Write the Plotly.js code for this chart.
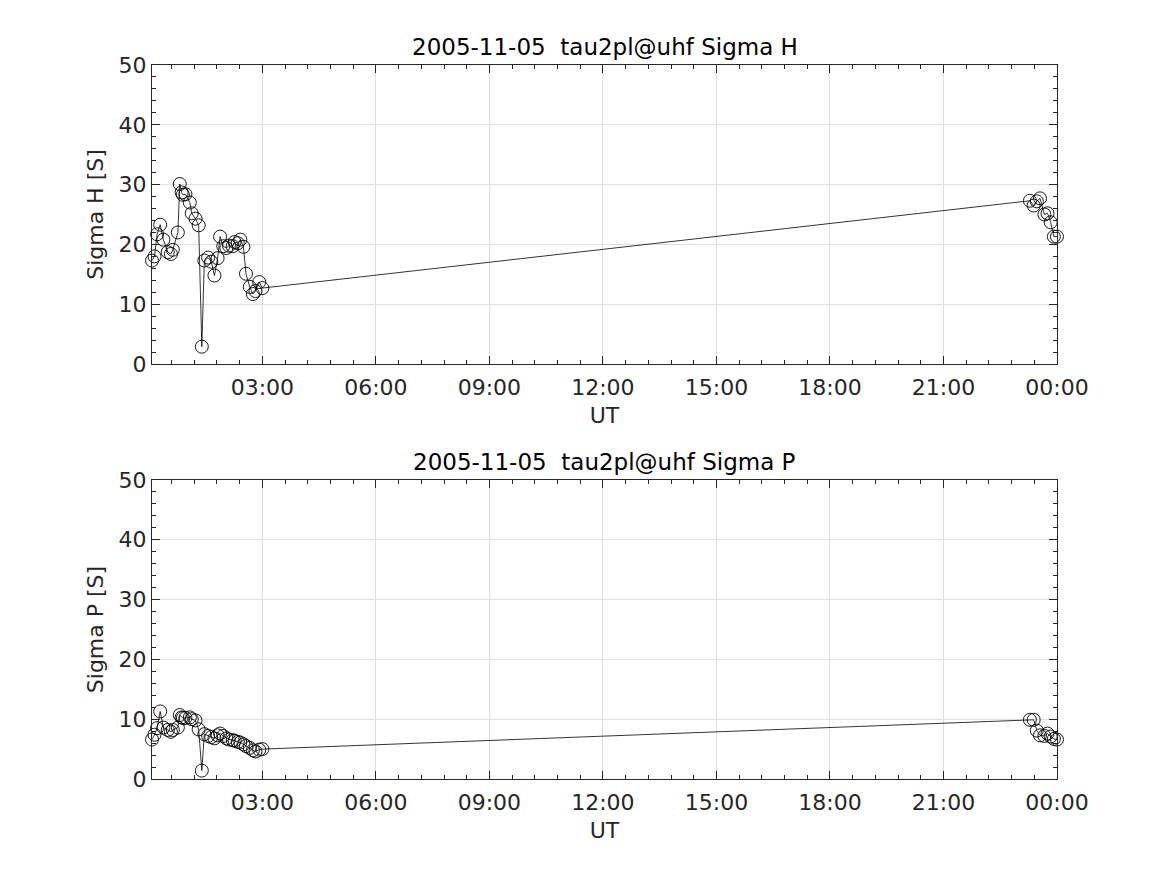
<!DOCTYPE html>
<html>
<head>
<meta charset="utf-8">
<script src="https://cdn.plot.ly/plotly-3.0.1.min.js"></script>
<style>html,body{margin:0;padding:0;background:#fff;}#chart{width:1167px;height:875px;}</style>
</head>
<body>
<div id="chart"></div>
<script>
const times = [
 "2005-11-05 00:05","2005-11-05 00:09","2005-11-05 00:13","2005-11-05 00:18","2005-11-05 00:23",
 "2005-11-05 00:30","2005-11-05 00:35","2005-11-05 00:38","2005-11-05 00:46","2005-11-05 00:49",
 "2005-11-05 00:52","2005-11-05 00:54","2005-11-05 00:58","2005-11-05 01:05","2005-11-05 01:08",
 "2005-11-05 01:14","2005-11-05 01:19","2005-11-05 01:24","2005-11-05 01:28","2005-11-05 01:34",
 "2005-11-05 01:39","2005-11-05 01:44","2005-11-05 01:49","2005-11-05 01:53","2005-11-05 01:58",
 "2005-11-05 02:03","2005-11-05 02:07","2005-11-05 02:13","2005-11-05 02:16","2005-11-05 02:21",
 "2005-11-05 02:25","2005-11-05 02:30","2005-11-05 02:34","2005-11-05 02:40","2005-11-05 02:45",
 "2005-11-05 02:49","2005-11-05 02:55","2005-11-05 03:00",
 "2005-11-05 23:17","2005-11-05 23:23","2005-11-05 23:28","2005-11-05 23:33","2005-11-05 23:40",
 "2005-11-05 23:45","2005-11-05 23:50","2005-11-05 23:55","2005-11-06 00:00"
];
const sigmaH = [17.3,18.0,21.7,23.3,20.8,18.7,18.4,19.1,22.0,30.1,28.7,28.3,28.4,27.0,25.2,24.3,23.2,2.9,17.3,17.8,
 17.1,14.8,17.7,21.3,19.7,19.4,19.8,19.7,20.4,20.2,20.8,19.6,15.1,12.9,11.7,12.2,13.7,12.7,
 27.3,26.5,27.2,27.7,25.0,25.2,23.7,21.3,21.3];
const sigmaP = [6.6,7.4,8.5,11.3,8.6,8.2,7.9,8.2,8.6,10.7,10.3,10.2,10.2,10.3,10.0,9.8,8.3,1.4,7.5,7.2,
 7.0,6.8,7.3,7.6,7.2,6.8,6.6,6.5,6.4,6.2,6.1,5.8,5.5,5.2,4.8,4.6,4.9,5.0,
 9.9,9.9,8.1,7.3,7.2,7.6,7.1,6.7,6.6];
const titleH = "2005-11-05  tau2pl@uhf Sigma H";
const titleP = "2005-11-05  tau2pl@uhf Sigma P";
const xRange = ["2005-11-05 00:05","2005-11-06 00:00"];
const yRange = [0,50];

const fnt = "DejaVu Sans, sans-serif";
const axc = "#262626";
function trace(y, xa, ya){
  return {x: times, y: y, xaxis: xa, yaxis: ya, type: 'scatter', mode: 'lines+markers',
    cliponaxis: false,
    line: {color: '#000', width: 0.8},
    marker: {symbol: 'circle-open', size: 13, color: '#000', line: {width: 0.9, color: '#000'}},
    hoverinfo: 'skip', showlegend: false};
}
function xax(anchor){
  return {type: 'date', range: xRange, anchor: anchor, domain: [0,1],
    tick0: "2005-11-05 00:00", dtick: 10800000, tickformat: '%H:%M',
    ticks: 'inside', ticklen: 8, tickwidth: 1, tickcolor: axc, ticklabelstandoff: 4,
    showline: true, linecolor: axc, linewidth: 1, mirror: 'ticks',
    showgrid: true, gridcolor: '#dfdfdf', gridwidth: 1, zeroline: false,
    tickfont: {family: fnt, size: 22, color: axc},
    minor: {tick0: "2005-11-05 00:00", dtick: 2160000, ticks: 'inside', ticklen: 4, tickcolor: axc, showgrid: false},
    title: {text: 'UT', font: {family: fnt, size: 22, color: axc}, standoff: 8}};
}
function yax(anchor, dom, label){
  return {range: yRange, anchor: anchor, domain: dom, dtick: 10, tick0: 0,
    ticks: 'inside', ticklen: 8, tickwidth: 1, tickcolor: axc,
    showline: true, linecolor: axc, linewidth: 1, mirror: 'ticks',
    showgrid: true, gridcolor: '#dfdfdf', gridwidth: 1, zeroline: false,
    tickfont: {family: fnt, size: 22, color: axc},
    minor: {dtick: 2, ticks: 'inside', ticklen: 4, tickcolor: axc, showgrid: false},
    title: {text: label, font: {family: fnt, size: 22, color: axc}, standoff: 8}};
}
const layout = {
  width: 1167, height: 875,
  margin: {l: 152, r: 110, t: 65, b: 96},
  paper_bgcolor: '#fff', plot_bgcolor: '#fff',
  xaxis: xax('y'), yaxis: yax('x', [0.5812, 1], 'Sigma H [S]'),
  xaxis2: xax('y2'), yaxis2: yax('x2', [0, 0.4188], 'Sigma P [S]'),
  annotations: [
    {text: titleH, xref: 'paper', yref: 'paper', x: 0.5, y: 1.0, yshift: 3, xanchor: 'center', yanchor: 'bottom', showarrow: false,
     font: {family: fnt, size: 23, color: '#000'}},
    {text: titleP, xref: 'paper', yref: 'paper', x: 0.5, y: 0.4188, yshift: 3, xanchor: 'center', yanchor: 'bottom', showarrow: false,
     font: {family: fnt, size: 23, color: '#000'}}
  ]
};
Plotly.newPlot('chart', [trace(sigmaH, 'x', 'y'), trace(sigmaP, 'x2', 'y2')], layout, {staticPlot: true});
</script>
</body>
</html>
